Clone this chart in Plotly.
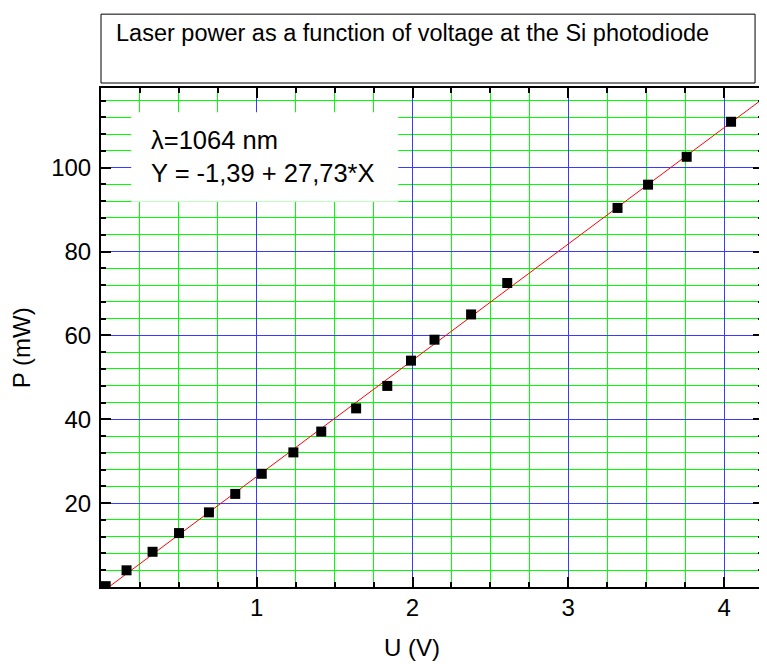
import plotly.graph_objects as go

# Data
voltage_U = [0.03, 0.164, 0.331, 0.501, 0.693, 0.862, 1.032, 1.235, 1.414, 1.638,
             1.838, 1.99, 2.141, 2.376, 2.608, 3.316, 3.512, 3.76, 4.045]
power_P = [0.2, 3.98, 8.4, 12.86, 17.8, 22.2, 27.0, 32.1, 37.07, 42.6,
           47.95, 53.98, 58.98, 65.0, 72.5, 90.4, 95.95, 102.6, 110.95]

# Linear fit shown on the chart: Y = -1,39 + 27,73*X
fit_intercept = -1.39
fit_slope = 27.73
fit_x = [0.0, 4.25]
fit_y = [fit_intercept + fit_slope * x for x in fit_x]

x_ticks = [1, 2, 3, 4]
y_ticks = [20, 40, 60, 80, 100]

title_text = "Laser power as a function of voltage at the Si photodiode"
legend_text = "λ=1064 nm<br>Y = -1,39 + 27,73*X"

FONT = "Liberation Sans, Arial, sans-serif"
GREEN = "#00ff00"
BLUE = "#3a3aff"

fig = go.Figure()
fig.add_trace(go.Scatter(x=fit_x, y=fit_y, mode="lines",
                         line=dict(color="#ff0000", width=1), showlegend=False))
fig.add_trace(go.Scatter(x=voltage_U, y=power_P, mode="markers",
                         marker=dict(symbol="square", size=10, color="black",
                                     line=dict(width=0)),
                         showlegend=False))

axis_common = dict(
    showline=True, linecolor="black", linewidth=2, mirror="allticks",
    ticks="inside", ticklen=10, tickwidth=2, tickcolor="black",
    showgrid=True, gridcolor=BLUE, gridwidth=1, zeroline=False,
    tickfont=dict(family=FONT, size=24, color="black"),
)

fig.update_xaxes(
    range=[0, 4.25], tickmode="array", tickvals=x_ticks,
    ticklabelstandoff=-2,
    minor=dict(tickmode="linear", tick0=0, dtick=0.25, ticks="inside", ticklen=5,
               tickwidth=2, tickcolor="black", showgrid=True, gridcolor=GREEN,
               gridwidth=1),
    **axis_common,
)
fig.update_yaxes(
    range=[0, 119], tickmode="array", tickvals=y_ticks,
    ticklabelstandoff=3,
    minor=dict(tickmode="linear", tick0=0, dtick=4, ticks="inside", ticklen=5,
               tickwidth=2, tickcolor="black", showgrid=True, gridcolor=GREEN,
               gridwidth=1),
    **axis_common,
)

# The page body has an 8px margin, so the figure is offset by 8px.
fig.update_layout(
    width=759, height=656,
    margin=dict(l=93, r=2, t=80, b=77),
    plot_bgcolor="white", paper_bgcolor="white",
    font=dict(family=FONT, color="black"),
    shapes=[
        # title box
        dict(type="rect", xref="paper", yref="paper", x0=0.0, x1=0.988,
             y0=1.010, y1=1.148, line=dict(color="black", width=1),
             fillcolor="white", layer="above"),
        # legend/equation box (white, hides the grid behind the text)
        dict(type="rect", xref="x", yref="y", x0=0.194, x1=1.908,
             y0=91.9, y1=113.2, line=dict(width=0), fillcolor="white",
             layer="above"),
    ],
    annotations=[
        dict(text=title_text, xref="paper", yref="paper", x=0.0196, y=1.110,
             xanchor="left", yanchor="middle", showarrow=False,
             font=dict(family=FONT, size=23.5, color="black")),
        dict(text=legend_text, xref="paper", yref="paper", x=0.073, y=0.862,
             xanchor="left", yanchor="middle", align="left", showarrow=False,
             font=dict(family=FONT, size=25.5, color="black")),
        dict(text="U (V)", xref="paper", yref="paper", x=0.470, y=-0.121,
             xanchor="center", yanchor="middle", showarrow=False,
             font=dict(family=FONT, size=24, color="black")),
        dict(text="P (mW)", xref="paper", yref="paper", x=-0.119, y=0.479,
             xanchor="center", yanchor="middle", textangle=-90, showarrow=False,
             font=dict(family=FONT, size=24, color="black")),
    ],
)

fig.write_html("out.html")
